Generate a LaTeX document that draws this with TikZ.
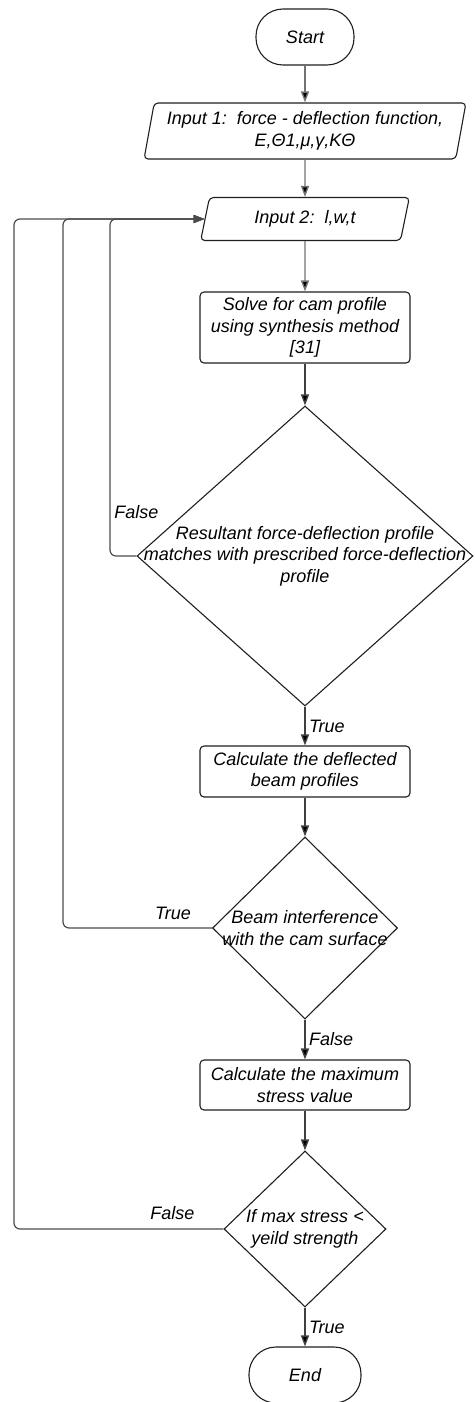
\documentclass[tikz,border=0pt]{standalone}
\usepackage{fontspec}
\setmainfont{Liberation Sans}
\usetikzlibrary{arrows.meta}
\usetikzlibrary{shapes.geometric,positioning}

\begin{document}
\begin{tikzpicture}[node distance=2cm,on grid,auto,
        font=\fontsize{18}{21.5}\selectfont\itshape,
        >={Triangle[length=11pt,width=8pt]},
        terminal/.style={draw=black!88,line width=1.1pt,rectangle,rounded corners=27pt,minimum height=56pt},
        io/.style={draw=black!88,line width=1.1pt,trapezium,trapezium left angle=78,trapezium right angle=102,trapezium stretches=true,rounded corners=4pt,align=center},
        process/.style={draw=black!88,line width=1.1pt,rectangle,rounded corners=4pt,minimum width=210pt,align=center},
        decision/.style={draw=black!88,line width=1.1pt,diamond,inner sep=0pt},
        arrowlight/.style={->,draw=black!55,line width=1.4pt},
        arrowdark/.style={->,draw=black!75,line width=1.4pt},
        backline/.style={->,draw=black!70,line width=1.2pt,rounded corners=6pt}]
    \useasboundingbox (0,0) rectangle (474pt,-1402pt);

    % main column
    \node[terminal, minimum width=98pt] (start) at (305pt,-37pt) {Start};
    \node[io, minimum width=322pt, minimum height=56pt] [below=94pt of start] (in1)
        {Input 1:\ \ force - deflection function,\\ E,Θ1,μ,γ,KΘ};
    \node[io, minimum width=209pt, minimum height=43pt] [below=88pt of in1] (in2) {Input 2:\ \ l,w,t};
    \node[process, minimum height=71pt] [below=108.5pt of in2] (solve)
        {Solve for cam profile\\ using synthesis method\\ {[31]}};
    \node[decision, minimum width=336pt, minimum height=300pt] [below=228.5pt of solve] (match) {};
    \node[align=center] (matchtext) at (match)
        {Resultant force-deflection profile\\ matches with prescribed force-deflection\\ profile};
    \node[process, minimum height=51pt] [below=215.5pt of match] (beam) {Calculate the deflected\\ beam profiles};
    \node[decision, minimum width=185pt, minimum height=182pt] [below=156.5pt of beam] (interf) {};
    \node[align=center] (interftext) at (interf) {Beam interference\\ with the cam surface};
    \node[process, minimum height=50pt] [below=157pt of interf] (stress) {Calculate the maximum\\ stress value};
    \node[decision, minimum width=162pt, minimum height=156pt] [below=144pt of stress] (yield) {};
    \node[align=center] (yieldtext) at (yield) {If max stress <\\ yeild strength};
    \node[terminal, minimum width=112pt] [below=146pt of yield] (end) {End};

    % rails for the loops back to input 2
    \coordinate (railA) at (14pt,0);
    \coordinate (railB) at (63pt,0);
    \coordinate (railC) at (110pt,0);

    \path[arrowlight]
        (start) edge (in1)
        (in1) edge (in2)
        (in2) edge (solve);
    \path[arrowdark]
        (solve) edge (match)
        (match) edge node[right] {True} (beam)
        (beam) edge (interf)
        (interf) edge node[right] {False} (stress)
        (stress) edge (yield)
        (yield) edge node[right] {True} (end);

    \draw[backline] (match.west) -| (railC |- in2.west) -- (in2.west);
    \draw[backline] (interf.west) -| (railB |- in2.west) -- (in2.west);
    \draw[backline] (yield.west) -| (railA |- in2.west) -- (in2.west);

    \node (falseA) at ([yshift=44pt]match.west) {False};
    \node (trueB) at ([xshift=-39pt,yshift=15pt]interf.west) {True};
    \node (falseC) at ([xshift=-51pt,yshift=16pt]yield.west) {False};
\end{tikzpicture}
\end{document}
